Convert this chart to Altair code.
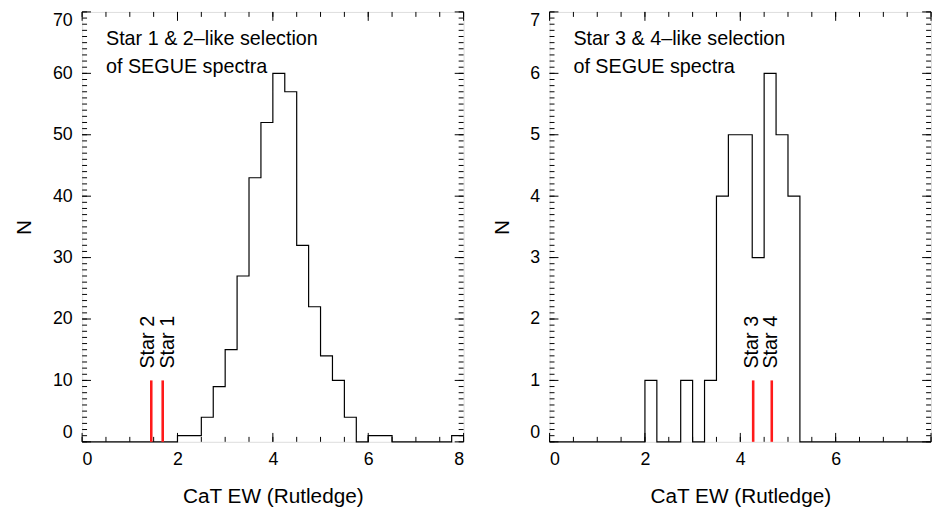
import altair as alt
import pandas as pd
import numpy as np

FONT = "Liberation Sans"
W, H = 386, 435
MAJOR, MINOR = 9, 5
XMAX = 8

# ---------------- data ----------------
bin_left = [0.0, 0.25, 0.5, 0.75, 1.0, 1.25, 1.5, 1.75,
            2.0, 2.25, 2.5, 2.75, 3.0, 3.25, 3.5, 3.75,
            4.0, 4.25, 4.5, 4.75, 5.0, 5.25, 5.5, 5.75,
            6.0, 6.25, 6.5, 6.75, 7.0, 7.25, 7.5, 7.75]
bin_end = 8.0

counts_12 = [0, 0, 0, 0, 0, 0, 0, 0,
             1, 1, 4, 9, 15, 27, 43, 52,
             60, 57, 32, 22, 14, 10, 4, 0,
             1, 1, 0, 0, 0, 0, 0, 1]
counts_34 = [0, 0, 0, 0, 0, 0, 0, 0,
             1, 0, 0, 1, 0, 1, 4, 5,
             5, 3, 6, 5, 4, 0, 0, 0,
             0, 0, 0, 0, 0, 0, 0, 0]

stars_12_names = ["Star 2", "Star 1"]
stars_12_ew = [1.45, 1.69]
stars_12_top = [10, 10]

stars_34_names = ["Star 3", "Star 4"]
stars_34_ew = [4.27, 4.66]
stars_34_top = [1, 1]

note_12 = ["Star 1 & 2\u2013like selection", "of SEGUE spectra"]
note_12_y = [64.6, 60.0]
note_34 = ["Star 3 & 4\u2013like selection", "of SEGUE spectra"]
note_34_y = [6.46, 6.0]
note_x = 0.5

x_major = [0, 2, 4, 6, 8]
x_minor = [0, 0.5, 1, 1.5, 2, 2.5, 3, 3.5, 4, 4.5, 5, 5.5, 6, 6.5, 7, 7.5, 8]

y_major_12 = [0, 10, 20, 30, 40, 50, 60, 70]
y_minor_12 = list(range(0, 71))
y_major_34 = [0, 1, 2, 3, 4, 5, 6, 7]
y_minor_34 = [round(v / 10, 1) for v in range(0, 71)]


def panel(counts, names, ews, tops, notes, notes_y, ymax, y_major, y_minor,
          dys, hide_last_x):
    xs = alt.Scale(domain=[0, XMAX], nice=False, zero=False)
    ys = alt.Scale(domain=[0, ymax], nice=False, zero=False)

    hist_df = pd.DataFrame({"edge": bin_left + [bin_end],
                            "n": counts + [counts[-1]]})
    star_df = pd.DataFrame({"name": names, "ew": ews, "top": tops,
                            "base": [0] * len(names)})
    note_df = pd.DataFrame({"t": notes, "y": notes_y,
                            "x": [note_x] * len(notes)})

    x_lab = alt.Axis(orient="bottom", values=x_major, format="d",
                     title="CaT EW (Rutledge)", ticks=False, tickSize=0,
                     domain=False, grid=False, labelAngle=0,
                     labelFont=FONT, labelFontSize=18, labelColor="black",
                     labelPadding=9, titleFont=FONT, titleFontSize=21,
                     titleFontWeight="normal", titleColor="black",
                     titlePadding=17,
                     labelExpr=("datum.value == 8 ? '' : datum.label"
                                if hide_last_x else "datum.label"))
    y_lab = alt.Axis(orient="left", values=y_major, format="d", title="N",
                     ticks=False, tickSize=0, domain=False, grid=False,
                     labelFlush=True, labelFont=FONT, labelFontSize=18,
                     labelColor="black", labelPadding=10, titleFont=FONT,
                     titleFontSize=21, titleFontWeight="normal",
                     titleColor="black", titlePadding=18)

    # inward tick marks on all four sides (IDL style); tick lengths are
    # converted from pixels into data units of each scale
    tick_rows = []

    def add_x(vals, at, size):
        ln = size / H * ymax
        end = at + ln if at == 0 else at - ln
        for v in vals:
            tick_rows.append({"x1": v, "x2": v, "y1": at, "y2": end})

    def add_y(vals, at, size):
        ln = size / W * XMAX
        end = at + ln if at == 0 else at - ln
        for v in vals:
            tick_rows.append({"x1": at, "x2": end, "y1": v, "y2": v})

    add_x(x_major, 0, MAJOR)
    add_x(x_minor, 0, MINOR)
    add_x(x_major, ymax, MAJOR)
    add_x(x_minor, ymax, MINOR)
    add_y(y_major, 0, MAJOR)
    add_y(y_minor, 0, MINOR)
    add_y(y_major, XMAX, MAJOR)
    add_y(y_minor, XMAX, MINOR)
    tick_df = pd.DataFrame(tick_rows)

    hist = alt.Chart(hist_df).mark_line(
        interpolate="step-after", color="black", strokeWidth=1.2
    ).encode(
        x=alt.X("edge:Q", scale=xs, axis=x_lab),
        y=alt.Y("n:Q", scale=ys, axis=y_lab),
    )

    ticks = alt.Chart(tick_df).mark_rule(color="black", strokeWidth=1).encode(
        x=alt.X("x1:Q", scale=xs), x2="x2:Q",
        y=alt.Y("y1:Q", scale=ys), y2="y2:Q",
    )

    rules = alt.Chart(star_df).mark_rule(color="#ff1a1a", strokeWidth=2.6).encode(
        x=alt.X("ew:Q", scale=xs),
        y=alt.Y("base:Q", scale=ys),
        y2="top:Q",
    )

    labels = []
    for i in range(len(names)):
        labels.append(alt.Chart(star_df.iloc[[i]]).mark_text(
            angle=270, align="left", baseline="middle", dx=12, dy=dys[i],
            fontSize=20, font=FONT, color="black"
        ).encode(
            x=alt.X("ew:Q", scale=xs),
            y=alt.Y("top:Q", scale=ys),
            text="name:N",
        ))

    note = alt.Chart(note_df).mark_text(
        align="left", baseline="alphabetic", fontSize=20, font=FONT,
        color="black"
    ).encode(
        x=alt.X("x:Q", scale=xs),
        y=alt.Y("y:Q", scale=ys),
        text="t:N",
    )

    return alt.layer(hist, ticks, rules, *labels, note).properties(
        width=W, height=H)


left = panel(counts_12, stars_12_names, stars_12_ew, stars_12_top,
             note_12, note_12_y, 70, y_major_12, y_minor_12, [-3.6, 5.0], False)
right = panel(counts_34, stars_34_names, stars_34_ew, stars_34_top,
              note_34, note_34_y, 7, y_major_34, y_minor_34, [-1.2, -1.2], True)

chart = alt.hconcat(left, right, spacing=24).properties(
    padding={"left": 5, "top": 0, "right": 0, "bottom": 0},
    background="white",
).configure_view(stroke="black", strokeWidth=1).configure(font=FONT)

chart.save("out.html", embed_options={"renderer": "svg", "actions": False})
